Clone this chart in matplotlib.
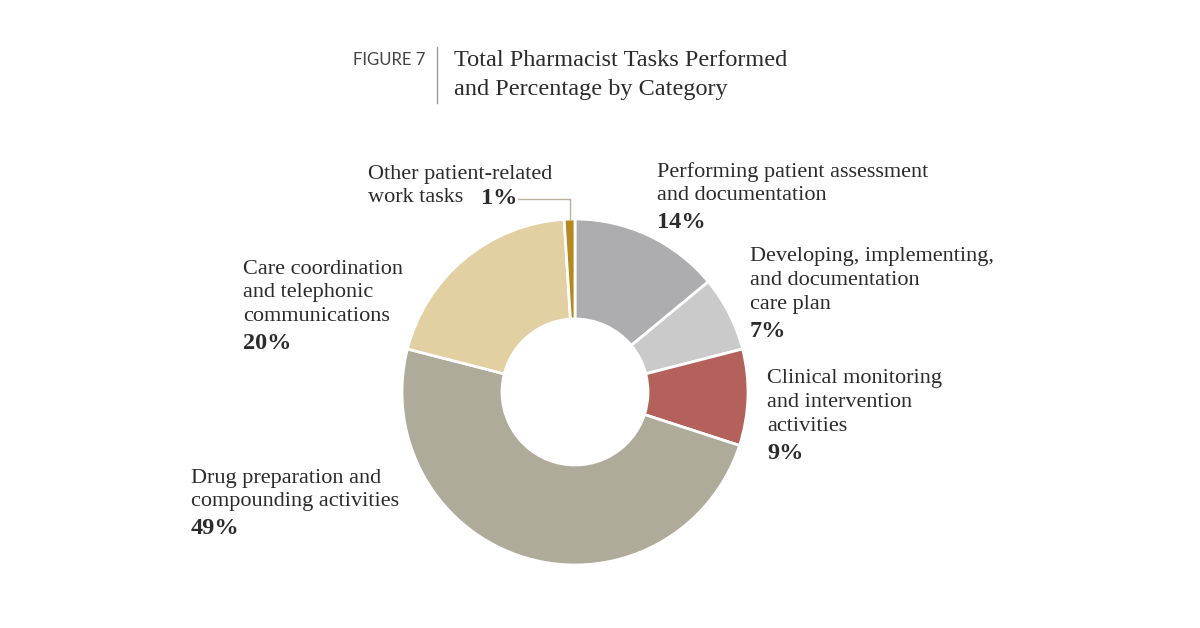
import matplotlib.pyplot as plt

# data, clockwise from 12 o'clock
categories = ["Performing patient assessment\nand documentation",
              "Developing, implementing,\nand documentation\ncare plan",
              "Clinical monitoring\nand intervention\nactivities",
              "Drug preparation and\ncompounding activities",
              "Care coordination\nand telephonic\ncommunications",
              "Other patient-related\nwork tasks"]
shares = [14, 7, 9, 49, 20, 1]
colors = ["#adadb0", "#cacaca", "#b4615b", "#aeab9a", "#e2cfa2", "#b5891f"]

W, H = 1200, 628
serif = "Liberation Serif"
txt_color = "#2b2b2b"
lab_fs = 16
pct_fs = 17.5

fig = plt.figure(figsize=(12, 6.28), dpi=100)
ax = fig.add_axes([0, 0, 1, 1])
ax.set_xlim(0, W)
ax.set_ylim(0, H)
ax.axis("off")

def Y(y):
    # image row -> data y
    return H - y

ax.pie(shares, colors=colors, startangle=90, counterclock=False,
       center=(575, Y(392)), radius=173,
       wedgeprops=dict(width=100, edgecolor="white", linewidth=2))
ax.set_xlim(0, W)
ax.set_ylim(0, H)
ax.set_aspect("equal")

# title block
ax.text(425, Y(60), "FIGURE 7", ha="right", va="center", fontsize=12,
        family="Lato", color="#444444")
ax.plot([437, 437], [Y(47), Y(103)], color="#9a9a9a", lw=1)
ax.text(454, Y(61), "Total Pharmacist Tasks Performed", ha="left", va="center",
        fontsize=17.5, family=serif, color=txt_color)
ax.text(454, Y(89), "and Percentage by Category", ha="left", va="center",
        fontsize=17.5, family=serif, color=txt_color)

# labels: (x, first line y) in image pixels
label_pos = [(657, 172), (750, 257), (767, 379), (191, 478), (243, 269)]
step = 23.7
for i, (x, y0) in enumerate(label_pos):
    lines = categories[i].split("\n")
    for k, line in enumerate(lines):
        ax.text(x, Y(y0 + k * step), line, ha="left", va="center",
                fontsize=lab_fs, family=serif, color=txt_color)
    ax.text(x, Y(y0 + len(lines) * step + 3), f"{shares[i]}%", ha="left",
            va="center", fontsize=pct_fs, family=serif, weight="bold",
            color=txt_color)

# small slice with leader line
other = categories[5].split("\n")
ax.text(368, Y(175), other[0], ha="left", va="center", fontsize=lab_fs,
        family=serif, color=txt_color)
ax.text(368, Y(198), other[1], ha="left", va="center", fontsize=lab_fs,
        family=serif, color=txt_color)
ax.text(481, Y(198), f"{shares[5]}%", ha="left", va="center", fontsize=pct_fs,
        family=serif, weight="bold", color=txt_color)
ax.plot([518, 570, 570], [Y(199), Y(199), Y(219)], color="#b8b0a0", lw=1)

fig.savefig("out.png", dpi=100, facecolor="white")
